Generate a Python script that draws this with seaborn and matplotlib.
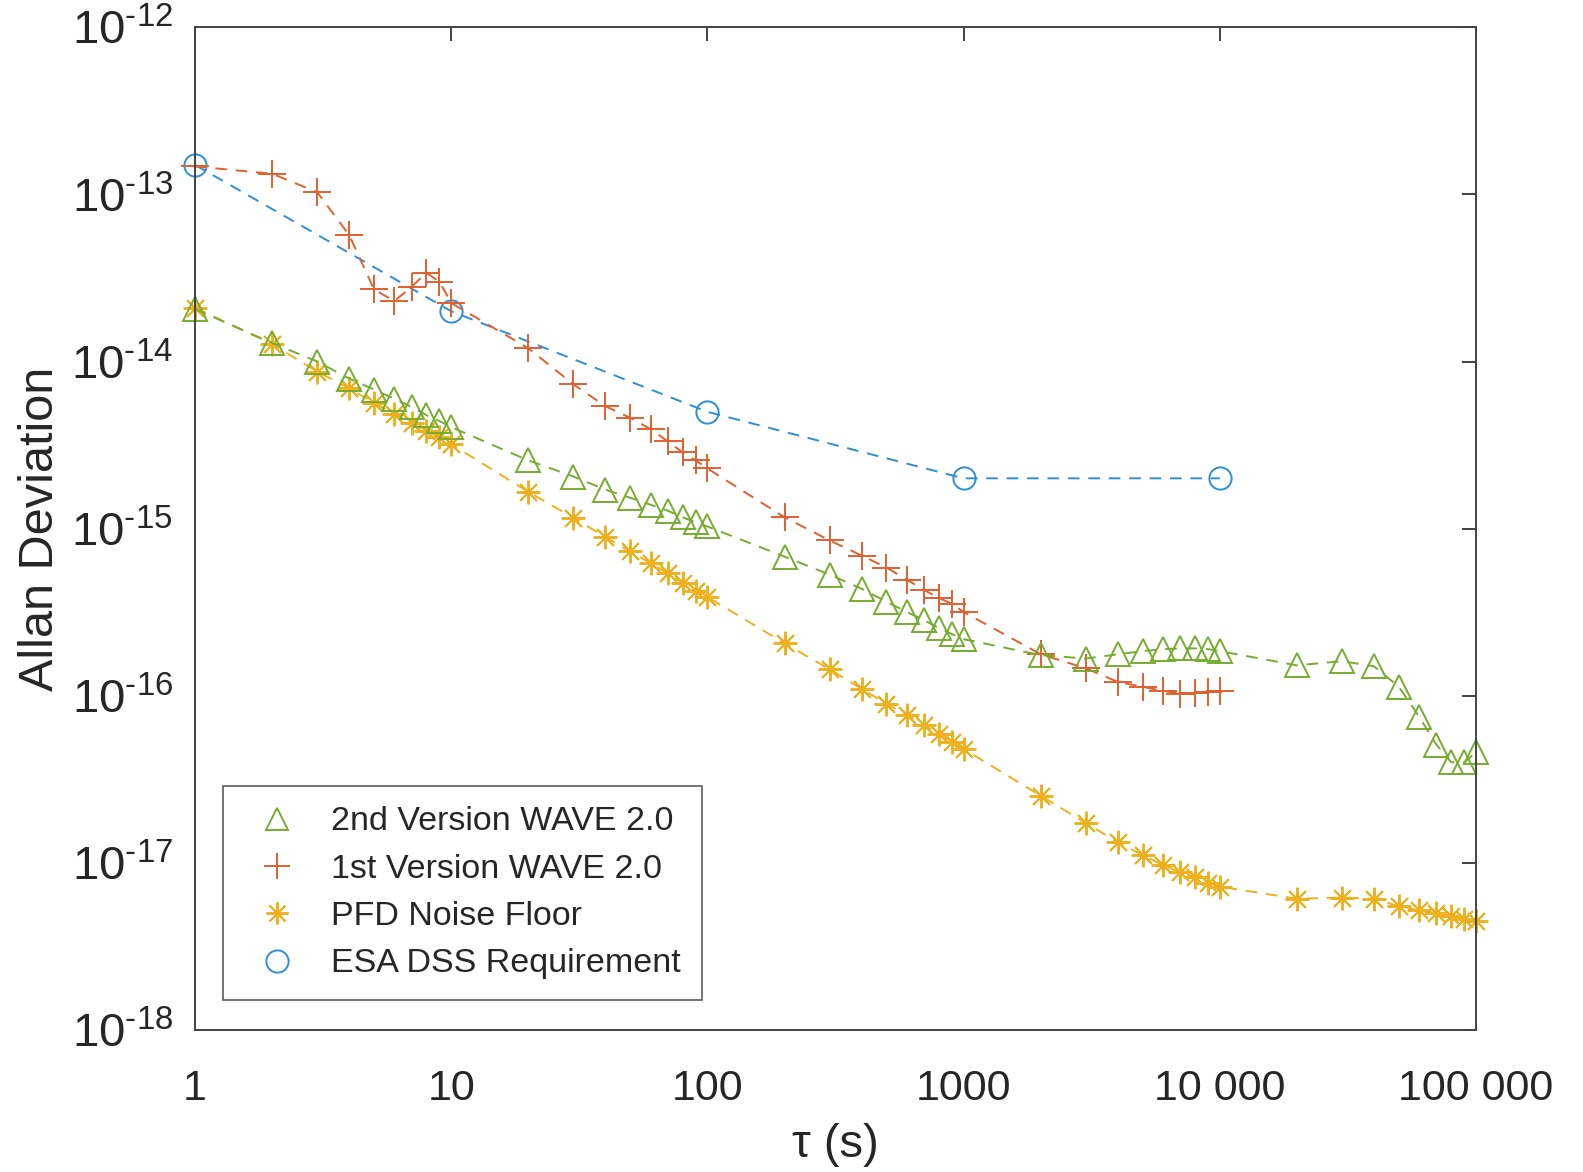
import numpy as np
import pandas as pd
import matplotlib
matplotlib.use('Agg')
import matplotlib.pyplot as plt
from matplotlib.lines import Line2D
import seaborn as sns

# --- data ---
tau_short = [1, 2, 3, 4, 5, 6, 7, 8, 9, 10,
             20, 30, 40, 50, 60, 70, 80, 90, 100,
             200, 300, 400, 500, 600, 700, 800, 900, 1000,
             2000, 3000, 4000, 5000, 6000, 7000, 8000, 9000, 10000]
tau_long = tau_short + [20000, 30000, 40000, 50000, 60000, 70000, 80000, 90000, 100000]

# 2nd Version WAVE 2.0 (green triangles)
adev_v2 = [2.06e-14, 1.29e-14, 1.0e-14, 7.9e-15, 6.8e-15, 5.98e-15, 5.35e-15, 4.78e-15, 4.4e-15, 4.05e-15,
           2.56e-15, 2.05e-15, 1.71e-15, 1.53e-15, 1.39e-15, 1.28e-15, 1.17e-15, 1.09e-15, 1.03e-15,
           6.8e-16, 5.3e-16, 4.37e-16, 3.65e-16, 3.17e-16, 2.84e-16, 2.54e-16, 2.34e-16, 2.18e-16,
           1.75e-16, 1.67e-16, 1.77e-16, 1.85e-16, 1.9e-16, 1.92e-16, 1.92e-16, 1.9e-16, 1.85e-16,
           1.52e-16, 1.61e-16, 1.5e-16, 1.13e-16, 7.5e-17, 5.1e-17, 4.0e-17, 4.0e-17, 4.6e-17]

# 1st Version WAVE 2.0 (red plus)
adev_v1 = [1.47e-13, 1.33e-13, 1.03e-13, 5.7e-14, 2.7e-14, 2.3e-14, 2.8e-14, 3.4e-14, 3.0e-14, 2.24e-14,
           1.2e-14, 7.3e-15, 5.4e-15, 4.6e-15, 3.94e-15, 3.33e-15, 2.86e-15, 2.56e-15, 2.29e-15,
           1.17e-15, 8.5e-16, 6.9e-16, 5.85e-16, 4.95e-16, 4.3e-16, 3.85e-16, 3.55e-16, 3.17e-16,
           1.77e-16, 1.46e-16, 1.21e-16, 1.13e-16, 1.07e-16, 1.03e-16, 1.04e-16, 1.06e-16, 1.07e-16]

# PFD Noise Floor (yellow asterisks)
adev_pfd = [2.1e-14, 1.27e-14, 8.7e-15, 6.9e-15, 5.65e-15, 4.85e-15, 4.28e-15, 3.83e-15, 3.52e-15, 3.2e-15,
            1.66e-15, 1.16e-15, 8.9e-16, 7.3e-16, 6.2e-16, 5.4e-16, 4.75e-16, 4.25e-16, 3.9e-16,
            2.06e-16, 1.44e-16, 1.1e-16, 8.95e-17, 7.7e-17, 6.7e-17, 5.9e-17, 5.3e-17, 4.8e-17,
            2.52e-17, 1.73e-17, 1.33e-17, 1.11e-17, 9.7e-18, 8.8e-18, 8.2e-18, 7.6e-18, 7.2e-18,
            6.1e-18, 6.2e-18, 6.1e-18, 5.5e-18, 5.2e-18, 5.0e-18, 4.8e-18, 4.6e-18, 4.5e-18]

# ESA DSS Requirement (blue circles)
tau_esa = [1, 10, 100, 1000, 10000]
adev_esa = [1.5e-13, 2.0e-14, 5.0e-15, 2.0e-15, 2.0e-15]

xtick_vals = [1, 10, 100, 1000, 10000, 100000]
xtick_labels = ['1', '10', '100', '1000', '10 000', '100 000']
ytick_exps = [-18, -17, -16, -15, -14, -13, -12]

labels = ['2nd Version WAVE 2.0', '1st Version WAVE 2.0', 'PFD Noise Floor', 'ESA DSS Requirement']
colors = ['#77AC30', '#E2602F', '#EDB120', '#2E8FD6']

sns.set_style('white')
plt.rcParams['font.family'] = ['Liberation Sans', 'DejaVu Sans']
plt.rcParams['mathtext.fontset'] = 'custom'
plt.rcParams['mathtext.rm'] = 'Liberation Sans'
plt.rcParams['mathtext.default'] = 'regular'

fig = plt.figure(figsize=(15.83, 11.72), dpi=100)
ax = fig.add_axes([0.1232, 0.1212, 0.8092, 0.8555])
ax.set_xscale('log')
ax.set_yscale('log')

asterisk = (8, 2, 0)
series = [
    (tau_esa, adev_esa, colors[3], 'o', 16),
    (tau_long, adev_pfd, colors[2], asterisk, 17),
    (tau_short, adev_v1, colors[1], '+', 20),
    (tau_long, adev_v2, colors[0], '^', 17),
]
for x, y, c, m, ms in series:
    df = pd.DataFrame({'tau': x, 'adev': y})
    sns.lineplot(data=df, x='tau', y='adev', ax=ax, color=c, linestyle='--',
                 dashes=False, linewidth=1.4, marker=m, markersize=ms,
                 markerfacecolor='none', markeredgecolor=c, markeredgewidth=1.4,
                 errorbar=None, sort=False, clip_on=False)
    ax.lines[-1].set_linestyle((0, (6, 4.5)))

ax.set_xlim(1, 1e5)
ax.set_ylim(1e-18, 1e-12)
ax.set_xticks(xtick_vals)
ax.set_xticklabels(xtick_labels)
ax.set_yticks([10.0 ** e for e in ytick_exps])
ax.set_yticklabels([r'$10^{\text{-}%d}$' % (-e) for e in ytick_exps])
ax.minorticks_off()
ax.tick_params(axis='both', which='major', direction='in', length=10, width=1.2,
               top=True, right=True, color='#222222')
ax.tick_params(axis='x', pad=28, labelsize=31)
ax.tick_params(axis='y', pad=16, labelsize=34)
for s in ax.spines.values():
    s.set_color('#444444')
    s.set_linewidth(1.4)

ax.set_xlabel('τ (s)', fontsize=34, labelpad=10)
ax.set_ylabel('Allan Deviation', fontsize=35, labelpad=6)

handles = [
    Line2D([], [], color=colors[0], marker='^', markersize=16, markerfacecolor='none', markeredgewidth=1.4, linestyle='none'),
    Line2D([], [], color=colors[1], marker='+', markersize=19, markeredgewidth=1.4, linestyle='none'),
    Line2D([], [], color=colors[2], marker=asterisk, markersize=16, markeredgewidth=1.4, linestyle='none'),
    Line2D([], [], color=colors[3], marker='o', markersize=16, markerfacecolor='none', markeredgewidth=1.4, linestyle='none'),
]
leg = ax.legend(handles, labels, loc='lower left', bbox_to_anchor=(0.022, 0.03),
                fontsize=24.5, frameon=True, fancybox=False, edgecolor='#333333',
                handlelength=1.98, handletextpad=0.6, labelspacing=0.48,
                borderpad=0.6, borderaxespad=0)
leg.get_frame().set_linewidth(1.2)

fig.savefig('out.png', dpi=100)
